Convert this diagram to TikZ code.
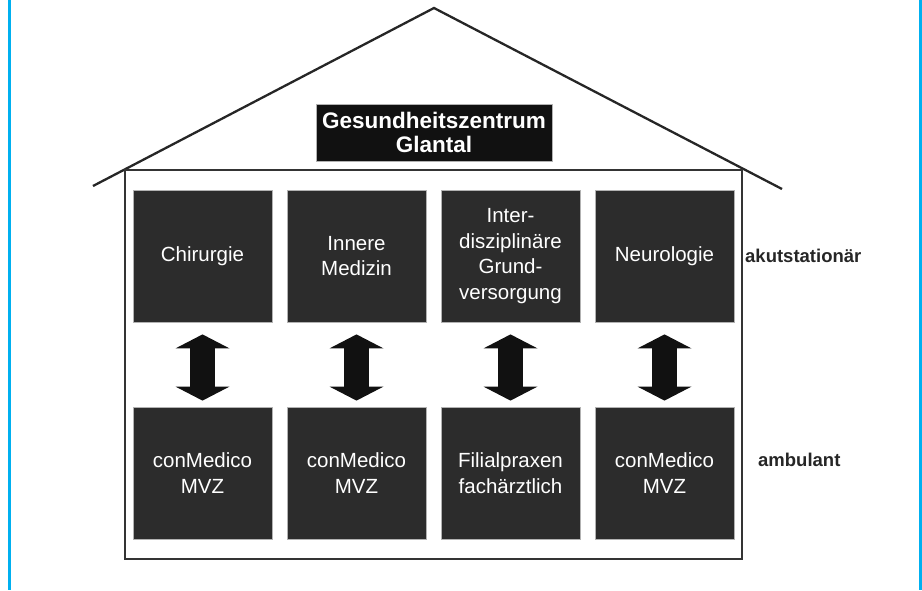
\documentclass[tikz,border=0pt]{standalone}
\usepackage{fontspec}
\setmainfont{Liberation Sans}
\usetikzlibrary{arrows.meta, positioning}
\definecolor{frameblue}{RGB}{0,176,240}
\definecolor{boxgray}{RGB}{44,44,44}
\definecolor{titleblack}{RGB}{17,17,17}
\definecolor{wallgray}{RGB}{52,52,52}

\begin{document}
\begin{tikzpicture}[
    x=1pt, y=-1pt,
    unit/.style={draw=gray!60, line width=0.8pt, fill=boxgray, text=white, inner sep=0pt, minimum width=139pt, minimum height=132pt, align=center, font=\fontsize{20.5}{25.5}\selectfont},
    title/.style={unit, fill=titleblack, minimum width=236pt, minimum height=57pt, font=\bfseries\fontsize{22.5}{24}\selectfont},
    level/.style={anchor=west, inner sep=0pt, font=\bfseries\fontsize{18.5}{22}\selectfont, text=black!85},
    wall/.style={draw=wallgray, line width=2.3pt},
    roof/.style={draw=black!85, line width=2.3pt},
    link/.style={{Triangle[width=54pt, length=14pt, line width=0pt]}-{Triangle[width=54pt, length=14pt, line width=0pt]}, line width=25pt, titleblack, shorten <=12pt, shorten >=6pt}
]
\useasboundingbox (0,0) rectangle (922,590);

% Rahmen
\draw[frameblue, line width=3pt] (9,0) -- (9,590);
\draw[frameblue, line width=3pt] (920,0) -- (920,590);

% Haus
\draw[roof] (93,186) -- (434,8) -- (782,189);
\draw[wall] (125,170) rectangle (742,559);
\node[title] (gz) at (434,132.5) {Gesundheitszentrum\\Glantal};

% stationaer
\node[unit] (chir) at (202.5,256) {Chirurgie};
\node[unit] (inn) at (356.5,256) {Innere\\Medizin};
\node[unit] (inter) at (510.5,256) {Inter-\\disziplinäre\\Grund-\\versorgung};
\node[unit] (neuro) at (664.5,256) {Neurologie};

% ambulant
\node[unit] (mvz1) at (202.5,473) {conMedico\\MVZ};
\node[unit] (mvz2) at (356.5,473) {conMedico\\MVZ};
\node[unit] (filial) at (510.5,473) {Filialpraxen\\fachärztlich};
\node[unit] (mvz3) at (664.5,473) {conMedico\\MVZ};

\draw[link] (chir) -- (mvz1);
\draw[link] (inn) -- (mvz2);
\draw[link] (inter) -- (filial);
\draw[link] (neuro) -- (mvz3);

\node[level] (akut) at (745,256) {akutstationär};
\node[level] (amb) at (758,460) {ambulant};

\end{tikzpicture}
\end{document}
